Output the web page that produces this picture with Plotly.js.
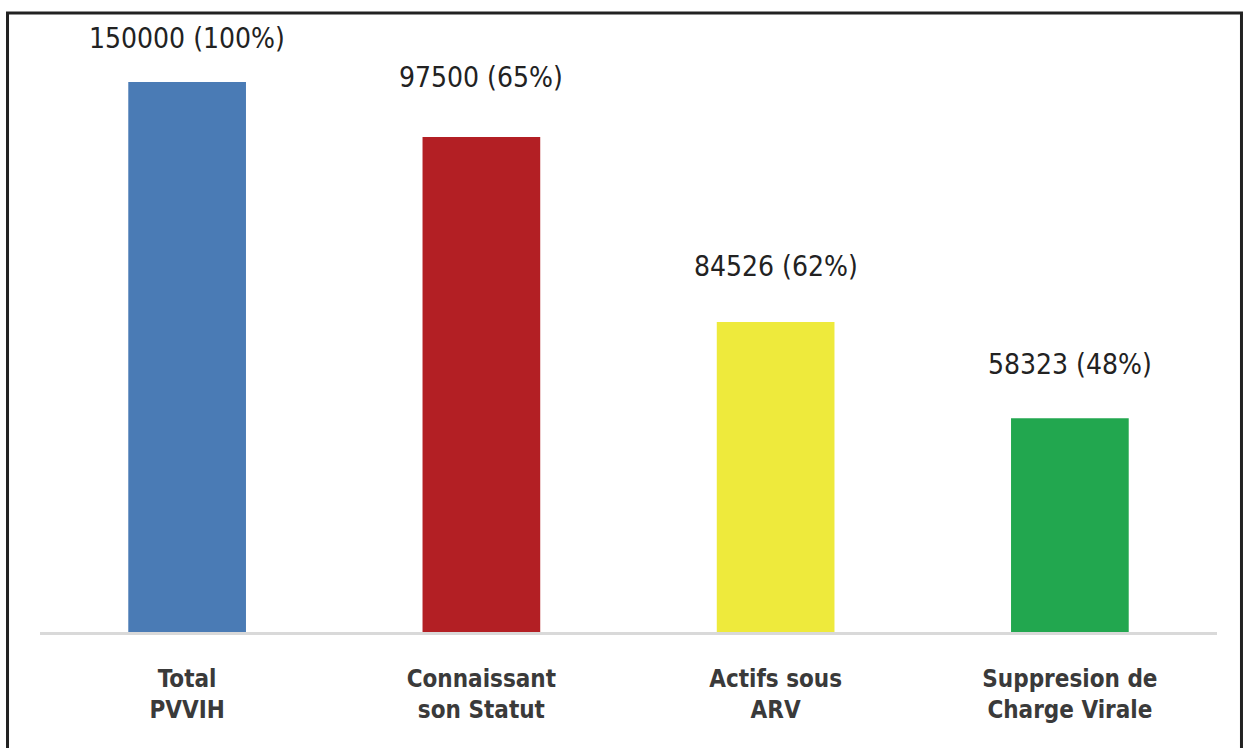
<!DOCTYPE html>
<html>
<head>
<meta charset="utf-8">
<script src="https://cdn.plot.ly/plotly-3.0.1.min.js"></script>
<style>html,body{margin:0;padding:0;background:#fff;}#chart{width:1243px;height:748px;}</style>
</head>
<body>
<div id="chart"></div>
<script>
// Categories (two-line tick labels)
const categories = ["Total<br>PVVIH", "Connaissant<br>son Statut", "Actifs sous<br>ARV", "Suppresion de<br>Charge Virale"];
// Bar heights as drawn in the picture (same scale as the first bar = 150000)
const barHeights = [150000, 135000, 84526, 58323];
// Value labels printed above the bars
const valueLabels = ["150000 (100%)", "97500 (65%)", "84526 (62%)", "58323 (48%)"];
const barColors = ["#4a7bb5", "#b31f24", "#eeea3c", "#22a74f"];
const labelOffsets = [44, 60, 56, 54];

const trace = {
  type: "bar",
  x: categories,
  y: barHeights,
  marker: {color: barColors},
  width: 0.4,
  hoverinfo: "skip"
};

const annotations = categories.map((c, i) => ({
  x: c, y: barHeights[i], xref: "x", yref: "y",
  text: valueLabels[i], showarrow: false,
  yanchor: "middle", yshift: labelOffsets[i],
  font: {family: "DejaVu Sans Condensed, Liberation Sans, sans-serif", size: 28, color: "#222222"}
}));

const layout = {
  width: 1243, height: 748,
  margin: {l: 40, r: 26, t: 45, b: 116},
  paper_bgcolor: "#ffffff", plot_bgcolor: "#ffffff",
  showlegend: false,
  xaxis: {
    showline: true, linecolor: "#d9d9d9", linewidth: 3,
    showgrid: false, zeroline: false, ticks: "",
    tickfont: {family: "DejaVu Sans Condensed, Liberation Sans, sans-serif", size: 24, color: "#3a3a3a", weight: "bold"},
    ticklabelstandoff: 23
  },
  yaxis: {
    visible: false, range: [0, 150000 * 587 / 550], showgrid: false, zeroline: false
  },
  annotations: annotations,
  shapes: [{
    type: "path", xref: "paper", yref: "paper",
    path: "M -0.0276,-0.3 L -0.0276,1.0545 L 1.0208,1.0545 L 1.0208,-0.3",
    line: {color: "#222222", width: 3}
  }]
};

Plotly.newPlot("chart", [trace], layout, {displayModeBar: false, staticPlot: true});
</script>
</body>
</html>
